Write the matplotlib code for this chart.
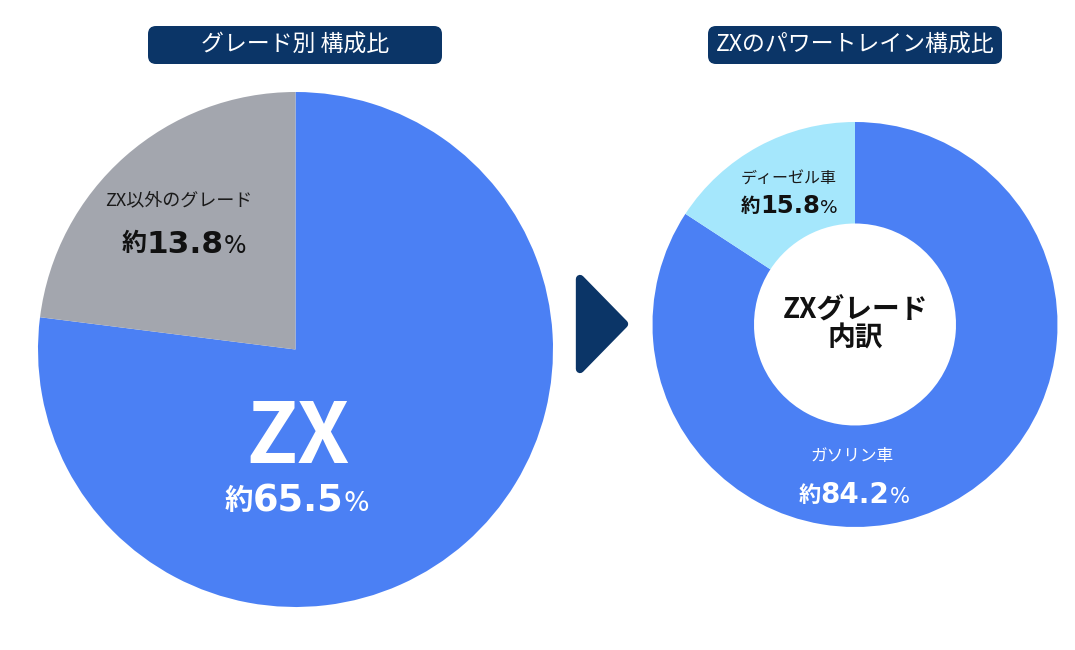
import matplotlib
matplotlib.use("Agg")
import matplotlib.pyplot as plt
from matplotlib.patches import FancyBboxPatch, Polygon

plt.rcParams['font.family'] = ['Noto Sans CJK JP', 'DejaVu Sans']

# data
grade_titles = "グレード別 構成比"
grade_labels = ["ZX", "ZX以外のグレード"]
grade_pct = ["65.5", "13.8"]
grade_share = [77.0, 23.0]   # slice sizes as drawn

pt_title = "ZXのパワートレイン構成比"
pt_labels = ["ガソリン車", "ディーゼル車"]
pt_pct = ["84.2", "15.8"]
pt_share = [84.2, 15.8]
center_label = ["ZXグレード", "内訳"]

BLUE = "#4b80f4"
GRAY = "#a3a6ae"
CYAN = "#a5e7fc"
NAVY = "#0b3567"
W, H = 1075, 650

fig = plt.figure(figsize=(W / 100, H / 100), dpi=100)
ax = fig.add_axes([0, 0, 1, 1])


def Y(y):
    return H - y  # image pixel row -> data y


# left pie
ax.pie(grade_share, colors=[BLUE, GRAY], startangle=90, counterclock=False,
       center=(295.5, Y(349.5)), radius=257.5, frame=True,
       wedgeprops=dict(linewidth=0))
# right donut
ax.pie(pt_share, colors=[BLUE, CYAN], startangle=90, counterclock=False,
       center=(855, Y(324.5)), radius=202.5, frame=True,
       wedgeprops=dict(width=101.5, linewidth=0))
ax.set_xlim(0, W)
ax.set_ylim(0, H)
ax.set_aspect('equal')
ax.axis('off')

# title boxes
for x0, x1, txt in [(148, 442, grade_titles), (708, 1002, pt_title)]:
    box = FancyBboxPatch((x0, Y(64)), x1 - x0, 38,
                         boxstyle="round,pad=0,rounding_size=8",
                         fc=NAVY, ec='none')
    ax.add_patch(box)
    ax.text((x0 + x1) / 2, Y(45), txt, color='white', fontsize=16.5,
            ha='center', va='center')

# arrow
arrow = Polygon([(580, Y(279)), (580, Y(369)), (624, Y(324))], closed=True,
                fc=NAVY, ec=NAVY, lw=6, joinstyle='round')
ax.add_patch(arrow)

renderer = fig.canvas.get_renderer()


def pct_label(xc, yb, num, size, color, k=None):
    # 約 + bold number + small %
    k = k or size * 0.8
    parts = [("約", k, 'bold', ['Noto Sans CJK JP'], k * 0.09),
             (num, size, 'bold', ['DejaVu Sans'], 0),
             ("%", k * 0.95, 'normal', ['DejaVu Sans'], 0)]
    texts = []
    for s, fs, fw, fam, dy in parts:
        t = ax.text(0, Y(yb) + dy, s, fontsize=fs, fontweight=fw, family=fam,
                    color=color, ha='left', va='baseline')
        texts.append(t)
    widths = [t.get_window_extent(renderer).width for t in texts]
    x = xc - sum(widths) / 2
    for t, w in zip(texts, widths):
        t.set_x(x)
        x += w


# left labels
ax.text(298, Y(463), grade_labels[0], fontsize=60, fontweight='bold',
        color='white', ha='center', va='baseline')
pct_label(297, 511, grade_pct[0], 26.5, 'white', k=20.5)
ax.text(179, Y(200), grade_labels[1], fontsize=13, color='#1a1a1a',
        ha='center', va='center')
pct_label(184, 253, grade_pct[1], 22.5, '#111111')

# right labels
ax.text(789, Y(178), pt_labels[1], fontsize=11.5, color='#1a1a1a',
        ha='center', va='center')
pct_label(789, 213, pt_pct[1], 17.5, '#111111')
ax.text(852, Y(456), pt_labels[0], fontsize=12, color='white',
        ha='center', va='center')
pct_label(854, 503, pt_pct[0], 20, 'white')

ax.text(855, Y(310), center_label[0], fontsize=20, fontweight='bold',
        color='#111111', ha='center', va='center')
ax.text(855, Y(339), center_label[1], fontsize=20, fontweight='bold',
        color='#111111', ha='center', va='center')

fig.savefig("out.png", dpi=100, facecolor='white')
